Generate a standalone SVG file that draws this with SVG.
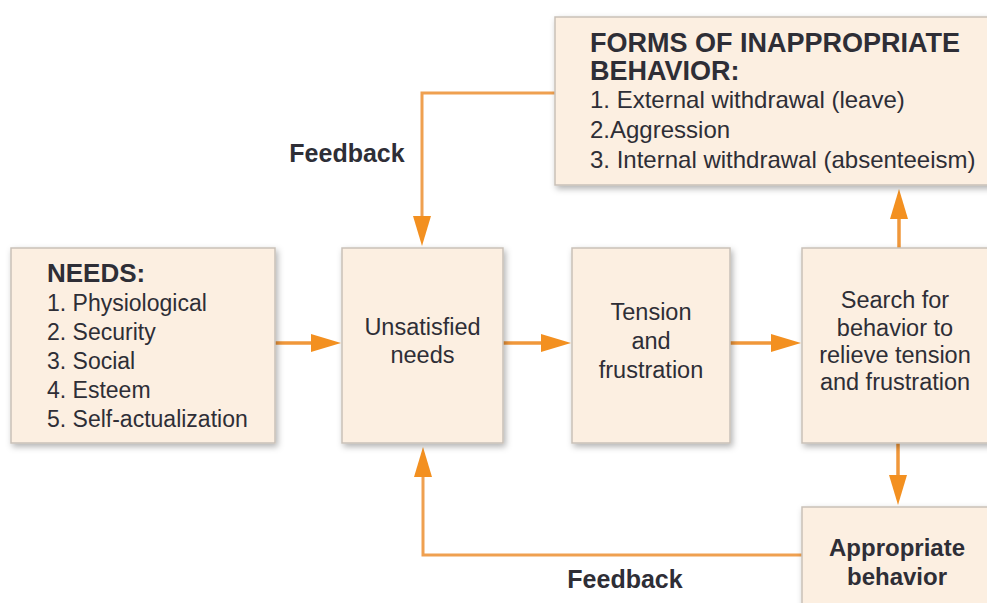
<svg xmlns="http://www.w3.org/2000/svg" width="987" height="603" viewBox="0 0 987 603">
<defs>
<filter id="sh" x="-10%" y="-10%" width="130%" height="130%">
<feDropShadow dx="2" dy="3" stdDeviation="3" flood-color="#000" flood-opacity="0.3"/>
</filter>
<marker id="ah" viewBox="0 0 30 18" markerWidth="30" markerHeight="18" refX="0" refY="9" orient="auto" markerUnits="userSpaceOnUse">
<path d="M0,0 L30,9 L0,18 z" fill="#F39020"/>
</marker>
<style>
.box{fill:#FCEFE1;stroke:#C9C1B8;stroke-width:1.5;filter:url(#sh)}
.t{font-family:"Liberation Sans",Arial,sans-serif;font-size:23px;fill:#2E2E36}
.m{font-size:23.5px}
.f{font-size:24px}
.c{text-anchor:middle}
.b{font-weight:bold}
.ln{fill:none;stroke:#F0973A;stroke-width:3.5;marker-end:url(#ah)}
.fb{fill:none;stroke:#EFA050;stroke-width:3;marker-end:url(#ah)}
</style>
</defs>
<rect width="987" height="603" fill="#FFFFFF"/>
<g id="connectors">
<path class="ln" d="M275,343 L311,343"/>
<path class="ln" d="M503,343 L541,343"/>
<path class="ln" d="M730,343 L771,343"/>
<path class="ln" d="M899,248 L899,219"/>
<path class="ln" d="M898,443 L898,475"/>
<path class="fb" d="M555,93 L422,93 L422,216"/>
<path class="fb" d="M802,555 L423,555 L423,477"/>
<text class="t b c" x="347" y="162" style="font-size:25px">Feedback</text>
<text class="t b c" x="625" y="588" style="font-size:25px">Feedback</text>
</g>
<g id="needs">
<rect class="box" x="11" y="248" width="264" height="195"/>
<text class="t b" x="47" y="282" style="font-size:26px">NEEDS:</text>
<text class="t" x="47" y="311">1. Physiological</text>
<text class="t" x="47" y="340">2. Security</text>
<text class="t" x="47" y="369">3. Social</text>
<text class="t" x="47" y="398">4. Esteem</text>
<text class="t" x="47" y="427">5. Self-actualization</text>
</g>
<g id="unsatisfied">
<rect class="box" x="342" y="248" width="161" height="195"/>
<text class="t m c" x="422.5" y="335">Unsatisfied</text>
<text class="t m c" x="422.5" y="363">needs</text>
</g>
<g id="tension">
<rect class="box" x="572" y="248" width="158" height="195"/>
<text class="t m c" x="651" y="320">Tension</text>
<text class="t m c" x="651" y="349">and</text>
<text class="t m c" x="651" y="378">frustration</text>
</g>
<g id="search">
<rect class="box" x="802" y="248" width="195" height="195"/>
<text class="t m c" x="895" y="308">Search for</text>
<text class="t m c" x="895" y="336">behavior to</text>
<text class="t m c" x="895" y="363">relieve tension</text>
<text class="t m c" x="895" y="390">and frustration</text>
</g>
<g id="forms">
<rect class="box" x="555" y="17" width="445" height="168"/>
<text class="t b" x="590" y="52" style="font-size:27px">FORMS OF INAPPROPRIATE</text>
<text class="t b" x="590" y="80" style="font-size:27px">BEHAVIOR:</text>
<text class="t f" x="590" y="108">1. External withdrawal (leave)</text>
<text class="t f" x="590" y="138">2.Aggression</text>
<text class="t f" x="590" y="168">3. Internal withdrawal (absenteeism)</text>
</g>
<g id="appropriate">
<rect class="box" x="802" y="507" width="195" height="110"/>
<text class="t b c" x="897" y="556" style="font-size:24px">Appropriate</text>
<text class="t b c" x="897" y="585" style="font-size:24px">behavior</text>
</g>
</svg>
